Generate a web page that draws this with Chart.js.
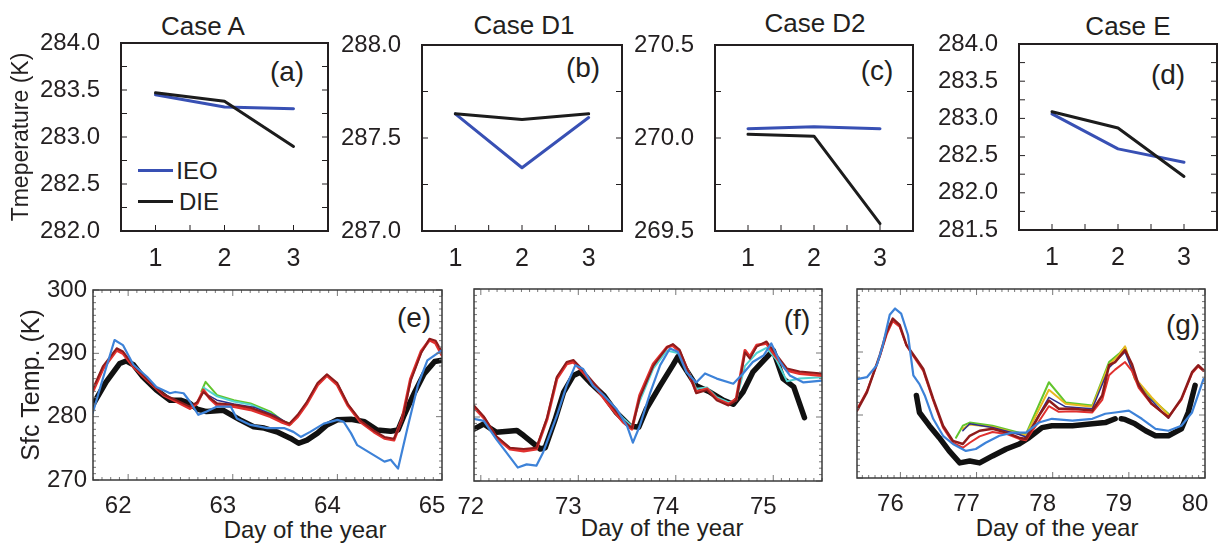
<!DOCTYPE html>
<html>
<head>
<meta charset="utf-8">
<script src="https://cdn.jsdelivr.net/npm/chart.js@4.4.1/dist/chart.umd.min.js"></script>
<style>
body { margin: 0; background: #fff; }
#fig { position: relative; width: 1220px; height: 545px; overflow: hidden;
       font-family: "Liberation Sans", Arial, sans-serif; color: #231f20; }
#fig canvas { position: absolute; }
.lbl { position: absolute; transform: translate(-50%, -50%); white-space: nowrap; line-height: 1; }
.key { position: absolute; height: 3px; width: 35px; }
</style>
</head>
<body>
<div id="fig">
  <div class="lbl" style="left:203px;top:26px;font-size:26px">Case A</div>
  <div class="lbl" style="left:524px;top:25px;font-size:26px">Case D1</div>
  <div class="lbl" style="left:815px;top:23px;font-size:26px">Case D2</div>
  <div class="lbl" style="left:1128px;top:26px;font-size:26px">Case E</div>

  <div class="lbl" style="left:287px;top:72px;font-size:28px">(a)</div>
  <div class="lbl" style="left:583px;top:68px;font-size:28px">(b)</div>
  <div class="lbl" style="left:877px;top:71px;font-size:28px">(c)</div>
  <div class="lbl" style="left:1168px;top:75px;font-size:28px">(d)</div>
  <div class="lbl" style="left:414px;top:318px;font-size:28px">(e)</div>
  <div class="lbl" style="left:797px;top:320px;font-size:28px">(f)</div>
  <div class="lbl" style="left:1183px;top:325px;font-size:28px">(g)</div>

  <div class="lbl" style="left:305px;top:530px;font-size:24px">Day of the year</div>
  <div class="lbl" style="left:662px;top:528px;font-size:24px">Day of the year</div>
  <div class="lbl" style="left:1057px;top:528px;font-size:24px">Day of the year</div>

  <!-- legend of panel (a) -->
  <div class="key" style="left:138px;top:169px;background:#3850b4"></div>
  <div class="lbl" style="left:197px;top:171px;font-size:24px">IEO</div>
  <div class="key" style="left:138px;top:200px;background:#1c1c1c"></div>
  <div class="lbl" style="left:199px;top:202px;font-size:24px">DIE</div>
</div>

<script>
// ---- top row: case means, periods 1..3 ----
const caseX = [1, 2, 3];
const caseA_IEO = [283.45, 283.32, 283.30];
const caseA_DIE = [283.47, 283.38, 282.90];
const caseD1_IEO = [287.63, 287.34, 287.61];
const caseD1_DIE = [287.63, 287.60, 287.63];
const caseD2_IEO = [270.05, 270.06, 270.05];
const caseD2_DIE = [270.02, 270.01, 269.54];
const caseE_IEO = [283.06, 282.59, 282.41];
const caseE_DIE = [283.09, 282.87, 282.22];

const ticksA = [282.0, 282.5, 283.0, 283.5, 284.0];
const ticksD1 = [287.0, 287.5, 288.0];
const ticksD2 = [269.5, 270.0, 270.5];
const ticksE = [281.5, 282.0, 282.5, 283.0, 283.5, 284.0];

// ---- bottom row: surface temperature [day, K] ----
const eBlack = [[61.66,281.8],[61.79,285.5],[61.92,288.4],[61.98,288.8],[62.05,288.2],[62.14,286.3],[62.27,284.2],[62.40,282.6],[62.50,282.6],[62.59,282.1],[62.66,281.2],[62.75,280.8],[62.91,281.0],[63.07,279.5],[63.20,278.4],[63.30,278.2],[63.42,277.6],[63.55,276.6],[63.63,275.8],[63.71,276.3],[63.81,277.4],[63.90,278.7],[64.00,279.5],[64.13,279.6],[64.26,279.2],[64.38,277.9],[64.51,277.7],[64.58,277.9],[64.64,280.3],[64.74,283.9],[64.83,286.8],[64.93,288.7],[65.00,288.9]];
const eBlue = [[61.66,280.5],[61.76,286.1],[61.87,292.1],[61.95,291.3],[62.05,288.2],[62.18,286.3],[62.27,284.7],[62.40,283.7],[62.45,283.9],[62.53,283.7],[62.59,282.4],[62.67,280.3],[62.75,280.8],[62.85,281.6],[62.98,281.6],[63.04,279.7],[63.17,278.7],[63.33,278.2],[63.49,278.2],[63.58,277.6],[63.65,276.8],[63.74,277.6],[63.87,278.9],[64.00,279.5],[64.06,279.2],[64.13,277.4],[64.19,275.5],[64.32,274.2],[64.45,272.9],[64.51,273.2],[64.58,271.8],[64.67,278.2],[64.77,285.0],[64.86,288.9],[65.00,290.5]];
const eRed = [[61.66,283.9],[61.76,287.6],[61.89,290.5],[61.95,290.0],[62.05,287.9],[62.18,285.8],[62.34,283.4],[62.46,282.4],[62.59,281.3],[62.66,282.1],[62.72,284.2],[62.78,282.9],[62.85,281.8],[63.01,281.6],[63.17,281.1],[63.36,280.0],[63.46,279.2],[63.54,278.7],[63.62,280.0],[63.71,282.1],[63.81,285.0],[63.90,286.5],[64.00,285.0],[64.10,281.8],[64.22,279.2],[64.35,277.6],[64.45,276.6],[64.54,276.3],[64.62,279.7],[64.70,286.0],[64.80,290.3],[64.88,292.1],[64.94,291.6],[65.00,289.7]];
const eDarkRed = [[61.66,284.3],[61.76,288.0],[61.89,290.8],[61.95,290.3],[62.05,288.1],[62.18,285.9],[62.34,283.5],[62.46,282.6],[62.59,281.6],[62.66,282.3],[62.72,283.9],[62.78,283.0],[62.85,282.1],[63.01,281.9],[63.17,281.4],[63.36,280.3],[63.46,279.5],[63.54,278.9],[63.62,280.3],[63.71,282.4],[63.81,285.3],[63.90,286.7],[64.00,285.3],[64.10,282.0],[64.22,279.4],[64.35,277.8],[64.45,276.8],[64.54,276.5],[64.62,279.5],[64.70,285.6],[64.80,290.0],[64.88,292.3],[64.94,292.0],[65.00,290.2]];
const eGreen = [[62.70,284.0],[62.74,285.5],[62.85,283.4],[63.01,282.6],[63.17,282.1],[63.36,280.8],[63.49,279.2],[63.56,278.9]];
const eCyan = [[62.72,284.6],[62.85,283.2],[63.01,282.4],[63.17,281.9],[63.36,280.5],[63.49,279.0]];
const eNavy = [[62.72,283.8],[62.85,282.6],[63.01,282.0],[63.20,281.5],[63.40,280.2],[63.52,279.0]];

const fBlack = [[71.93,278.1],[72.03,278.9],[72.16,277.6],[72.37,277.9],[72.44,277.1],[72.61,275.0],[72.66,275.2],[72.76,279.5],[72.85,283.9],[72.95,286.5],[73.02,287.0],[73.12,285.4],[73.26,283.4],[73.39,280.7],[73.53,278.6],[73.62,278.4],[73.70,281.3],[73.84,284.9],[73.97,288.1],[74.02,289.4],[74.10,287.5],[74.21,284.9],[74.35,283.9],[74.49,282.6],[74.59,282.0],[74.69,283.9],[74.79,287.0],[74.90,288.8],[75.00,290.4],[75.10,286.0],[75.21,284.7],[75.32,279.9]];
const fBlue = [[71.93,279.7],[72.03,279.4],[72.16,276.5],[72.26,274.5],[72.38,272.1],[72.47,272.6],[72.57,272.4],[72.64,274.5],[72.78,280.2],[72.88,284.9],[72.97,288.1],[73.05,287.5],[73.15,284.9],[73.26,283.4],[73.39,281.3],[73.50,278.6],[73.56,276.0],[73.63,278.6],[73.74,283.9],[73.84,288.1],[73.94,290.7],[74.02,290.2],[74.11,287.0],[74.21,285.4],[74.30,286.8],[74.42,286.0],[74.59,285.2],[74.69,286.8],[74.79,288.6],[74.90,289.6],[74.98,291.5],[75.07,288.6],[75.17,286.5],[75.31,285.4],[75.50,285.7]];
const fRed = [[71.93,281.5],[72.03,279.9],[72.16,276.8],[72.30,275.0],[72.44,274.7],[72.57,275.0],[72.68,279.7],[72.78,286.0],[72.88,288.3],[72.95,288.6],[73.05,287.0],[73.19,284.4],[73.32,281.8],[73.46,279.2],[73.55,278.1],[73.63,283.4],[73.77,288.3],[73.91,290.9],[73.97,291.2],[74.04,290.2],[74.15,286.2],[74.21,283.9],[74.32,284.4],[74.42,282.8],[74.54,282.0],[74.62,282.8],[74.71,290.4],[74.76,289.4],[74.83,291.2],[74.93,291.5],[75.03,289.4],[75.14,287.3],[75.27,286.8],[75.50,286.5]];
const fDarkRed = [[71.93,281.8],[72.03,280.1],[72.16,277.0],[72.30,275.2],[72.44,275.0],[72.57,275.2],[72.68,279.9],[72.78,286.3],[72.88,288.6],[72.95,288.9],[73.05,287.3],[73.19,284.8],[73.32,282.2],[73.46,279.5],[73.55,278.3],[73.63,283.0],[73.77,288.0],[73.91,290.9],[73.97,291.4],[74.04,290.5],[74.15,286.3],[74.21,283.7],[74.32,284.2],[74.42,282.6],[74.54,281.8],[74.62,282.6],[74.71,290.1],[74.76,289.1],[74.83,291.0],[74.93,291.8],[75.03,289.8],[75.14,287.6],[75.27,287.1],[75.50,286.8]];
const fCyan = [[73.32,282.2],[73.46,279.8],[73.55,278.6],[73.63,282.5],[73.77,287.6],[73.91,290.4],[74.04,289.9],[74.15,286.5],[74.21,284.4],[74.32,284.6],[74.42,283.1],[74.54,282.3],[74.62,282.6],[74.71,288.0],[74.83,290.0],[74.93,290.8],[75.03,289.0],[75.14,285.6],[75.27,286.0],[75.50,286.2]];

const gBlack = [[76.21,283.1],[76.25,280.4],[76.38,278.3],[76.51,276.4],[76.64,274.3],[76.78,272.4],[76.91,272.7],[77.04,272.4],[77.21,273.5],[77.39,274.6],[77.56,275.4],[77.69,276.4],[77.86,278.0],[77.99,278.3],[78.26,278.3],[78.52,278.6],[78.69,278.8],[78.82,279.4],[78.86,null],[78.90,279.4],[78.95,279.3],[79.08,278.6],[79.22,277.5],[79.35,276.7],[79.52,276.7],[79.69,277.8],[79.78,280.4],[79.87,284.7]];
const gBlue = [[75.43,285.7],[75.56,286.0],[75.69,287.9],[75.77,291.1],[75.86,295.9],[75.93,296.9],[76.01,296.1],[76.10,292.7],[76.17,286.3],[76.25,284.9],[76.32,283.1],[76.43,279.4],[76.56,276.7],[76.69,275.4],[76.86,274.3],[76.99,274.6],[77.12,275.6],[77.30,276.7],[77.47,277.2],[77.65,277.2],[77.82,278.8],[77.99,279.4],[78.26,279.1],[78.52,279.4],[78.69,280.2],[78.82,280.4],[79.00,280.7],[79.17,279.4],[79.35,277.8],[79.52,277.5],[79.69,278.3],[79.83,280.4],[79.98,285.7]];
const gDarkRed = [[75.43,280.7],[75.56,283.6],[75.73,289.5],[75.82,293.2],[75.90,295.3],[75.99,294.3],[76.08,291.1],[76.21,288.9],[76.30,287.3],[76.43,282.6],[76.56,278.3],[76.69,275.9],[76.82,275.4],[76.91,276.7],[77.04,277.5],[77.21,277.8],[77.39,277.2],[77.56,276.4],[77.65,276.2],[77.82,279.9],[77.95,282.3],[78.08,281.0],[78.26,281.0],[78.52,280.7],[78.65,283.1],[78.74,287.9],[78.82,288.4],[78.95,290.3],[79.04,288.1],[79.13,284.7],[79.30,281.8],[79.52,279.6],[79.69,282.6],[79.83,286.8],[79.91,287.9],[79.98,287.1]];
const gRed = [[75.43,280.9],[75.56,283.8],[75.73,289.3],[75.82,292.8],[75.90,294.9],[75.99,294.0],[76.08,291.0],[76.21,288.6],[76.30,287.0],[76.43,282.3],[76.56,278.0],[76.69,275.6],[76.82,274.8],[76.91,275.6],[77.04,276.6],[77.21,277.3],[77.39,277.0],[77.56,276.2],[77.65,276.0],[77.82,279.0],[77.95,281.4],[78.08,280.5],[78.26,280.6],[78.52,280.4],[78.65,282.4],[78.74,286.3],[78.82,287.2],[78.95,288.4],[79.04,287.0],[79.13,284.3],[79.30,281.7],[79.52,279.7],[79.69,282.4],[79.83,286.6],[79.91,287.7],[79.98,287.0]];
const gGreen = [[76.73,276.4],[76.82,278.3],[76.91,278.8],[77.21,278.3],[77.56,277.2],[77.65,277.0],[77.95,285.2],[78.17,282.0],[78.52,281.5],[78.74,288.4],[78.87,289.7],[78.95,290.8],[79.08,285.7],[79.30,282.6],[79.52,280.2]];
const gYellow = [[76.82,277.8],[76.91,278.5],[77.21,278.1],[77.56,277.0],[77.65,276.8],[77.95,284.0],[78.17,281.8],[78.52,281.3],[78.74,288.0],[78.87,289.5],[78.95,290.9],[79.08,285.9],[79.30,282.8],[79.52,280.0]];
const gNavy = [[76.82,277.5],[76.91,278.6],[77.21,278.0],[77.56,276.9],[77.65,276.5],[77.95,282.8],[78.17,281.3],[78.52,281.0],[78.74,287.5],[78.95,290.0],[79.08,286.0],[79.22,283.2],[79.30,282.3],[79.52,279.5]];

const dayTicksE = [62, 63, 64, 65];
const dayTicksF = [72, 73, 74, 75];
const dayTicksG = [76, 77, 78, 79, 80];
const sfcTicks = [270, 280, 290, 300];

const ink = '#231f20';
const FONT = '"Liberation Sans", Arial, sans-serif';
const IEO = '#3850b4', DIE = '#1c1c1c';

// box plus inward tick marks, placed with the chart's own scales
const frame = {
  id: 'frame',
  afterDraw(chart, args, o) {
    const { ctx, chartArea: a, scales: { x, y } } = chart;
    ctx.save();
    ctx.strokeStyle = o.tickColor;
    ctx.lineWidth = 1;
    ctx.beginPath();
    const walk = (scale, step, major, fn) => {
      const k0 = Math.ceil(scale.min / step - 1e-6), k1 = Math.floor(scale.max / step + 1e-6);
      for (let k = k0; k <= k1; k++) {
        const v = k * step;
        const big = Math.abs(v / major - Math.round(v / major)) < 1e-6;
        fn(scale.getPixelForValue(v), big ? o.majorLen : o.minorLen);
      }
    };
    walk(x, o.xStep, o.xMajor, (p, len) => {
      if (o.sides.includes('bottom')) { ctx.moveTo(p, a.bottom); ctx.lineTo(p, a.bottom - len); }
      if (o.sides.includes('top')) { ctx.moveTo(p, a.top); ctx.lineTo(p, a.top + len); }
    });
    walk(y, o.yStep, o.yMajor, (p, len) => {
      if (o.sides.includes('left')) { ctx.moveTo(a.left, p); ctx.lineTo(a.left + len, p); }
      if (o.sides.includes('right')) { ctx.moveTo(a.right, p); ctx.lineTo(a.right - len, p); }
    });
    ctx.stroke();
    ctx.strokeStyle = o.boxColor;
    ctx.lineWidth = o.boxWidth;
    ctx.strokeRect(a.left, a.top, a.right - a.left, a.bottom - a.top);
    ctx.restore();
  }
};

const fig = document.getElementById('fig');

function panel(p) {
  const cv = document.createElement('canvas');
  cv.width = p.cw; cv.height = p.ch;
  cv.style.left = p.cx + 'px'; cv.style.top = p.cy + 'px';
  fig.appendChild(cv);
  const b = p.box;
  new Chart(cv, {
    type: 'line',
    data: {
      datasets: p.series.map(s => ({
        data: s.data, borderColor: s.color, borderWidth: s.width,
        pointRadius: 0, tension: 0, fill: false, spanGaps: false,
        borderJoinStyle: 'round', borderCapStyle: 'round'
      }))
    },
    options: {
      responsive: false, animation: false, events: [],
      layout: { padding: { left: 0, bottom: 0, top: b.top - p.cy, right: p.cx + p.cw - b.right } },
      plugins: { legend: { display: false }, tooltip: { enabled: false }, frame: p.frame },
      scales: {
        x: {
          type: 'linear', min: p.xMin, max: p.xMax,
          afterBuildTicks: s => { s.ticks = p.xTicks.map(v => ({ value: v })); },
          afterFit: s => { s.height = p.cy + p.ch - b.bottom; s.paddingLeft = 0; s.paddingRight = 0; },
          grid: { display: false, drawTicks: false }, border: { display: false },
          ticks: { color: ink, font: { family: FONT, size: p.xFont }, padding: p.xPad,
                   labelOffset: p.xShift || 0, maxRotation: 0, autoSkip: false,
                   callback: v => String(v) }
        },
        y: {
          type: 'linear', min: p.yMin, max: p.yMax,
          afterBuildTicks: s => { s.ticks = p.yTicks.map(v => ({ value: v })); },
          afterFit: s => { s.width = b.left - p.cx; s.paddingTop = 0; s.paddingBottom = 0; },
          grid: { display: false, drawTicks: false }, border: { display: false },
          ticks: { display: p.yLabels, color: ink, font: { family: FONT, size: p.yFont },
                   padding: p.yPad, autoSkip: false, callback: p.yFmt },
          title: p.yTitle ? { display: true, text: p.yTitle, color: ink,
                   font: { family: FONT, size: p.yTitleSize }, padding: { top: p.yTitlePad, bottom: 0 } }
                 : { display: false }
        }
      }
    },
    plugins: [frame]
  });
}

const pts = ys => caseX.map((x, i) => [x, ys[i]]);
const topFrame = { xStep: 0.5, xMajor: 1, yStep: 0.25, yMajor: 0.5, minorLen: 6, majorLen: 6,
                   sides: ['bottom', 'left', 'right'], tickColor: ink, boxColor: ink, boxWidth: 2 };
const botFrame = { xStep: 1 / 12, xMajor: 1, yStep: 1, yMajor: 10, minorLen: 3, majorLen: 6,
                   sides: ['bottom', 'top', 'left', 'right'], tickColor: '#777', boxColor: '#3a3a3a', boxWidth: 1.5 };
const fmt1 = v => v.toFixed(1);

const tops = [
  { cx: 0,   box: { left: 121, top: 43, right: 328, bottom: 231 }, cw: 335, ie: caseA_IEO, de: caseA_DIE, t: ticksA, title: 'Tmeperature (K)' },
  { cx: 335, box: { left: 422, top: 45, right: 622, bottom: 231 }, cw: 293, ie: caseD1_IEO, de: caseD1_DIE, t: ticksD1 },
  { cx: 628, box: { left: 715, top: 45, right: 913, bottom: 231 }, cw: 292, ie: caseD2_IEO, de: caseD2_DIE, t: ticksD2 },
  { cx: 920, box: { left: 1019, top: 44, right: 1217, bottom: 230 }, cw: 300, ie: caseE_IEO, de: caseE_DIE, t: ticksE }
];
tops.forEach(c => panel({
  cx: c.cx, cy: 0, cw: c.cw, ch: 275, box: c.box,
  xMin: 0.5, xMax: 3.5, xTicks: caseX, xFont: 25, xPad: 13,
  yMin: c.t[0], yMax: c.t[c.t.length - 1], yTicks: c.t, yLabels: true, yFont: 24, yPad: 21, yFmt: fmt1,
  yTitle: c.title, yTitleSize: 23, yTitlePad: 8,
  frame: topFrame,
  series: [
    { data: pts(c.de), color: DIE, width: 3 },
    { data: pts(c.ie), color: IEO, width: 3 }
  ]
}));

const BLK = '#111111', BLU = '#3d82d8', RED = '#e0302e', DRK = '#8e1b1b',
      GRN = '#62c52d', CYN = '#52d3d0', NAV = '#2b2f8f', YEL = '#e8b820';

const bots = [
  { cx: 0, cw: 470, box: { left: 93, top: 290, right: 442, bottom: 480 }, xMin: 61.664, xMax: 65.0, xTicks: dayTicksE,
    labels: true, title: 'Sfc Temp. (K)',
    series: [[eBlue, BLU, 2.2], [eDarkRed, DRK, 2], [eRed, RED, 3], [eNavy, NAV, 1.5], [eCyan, CYN, 2], [eGreen, GRN, 2], [eBlack, BLK, 5.5]] },
  { cx: 452, cw: 380, box: { left: 474, top: 289, right: 822, bottom: 481 }, xMin: 71.93, xMax: 75.5, xTicks: dayTicksF,
    labels: false,
    series: [[fBlue, BLU, 2.2], [fDarkRed, DRK, 2], [fRed, RED, 3], [fCyan, CYN, 2], [fBlack, BLK, 5.5]] },
  { cx: 835, cw: 385, box: { left: 857, top: 289, right: 1205, bottom: 478 }, xMin: 75.43, xMax: 80.0, xTicks: dayTicksG,
    labels: false,
    series: [[gBlue, BLU, 2.2], [gDarkRed, DRK, 2.5], [gRed, RED, 2], [gNavy, NAV, 1.5], [gYellow, YEL, 2], [gGreen, GRN, 2], [gBlack, BLK, 5.5]] }
];
bots.forEach(c => panel({
  cx: c.cx, cy: 270, cw: c.cw, ch: 245, box: c.box,
  xMin: c.xMin, xMax: c.xMax, xTicks: c.xTicks, xFont: 24, xPad: 12, xShift: -10,
  yMin: 270, yMax: 300, yTicks: sfcTicks, yLabels: c.labels, yFont: 24, yPad: 6, yFmt: v => String(v),
  yTitle: c.title, yTitleSize: 25, yTitlePad: 17,
  frame: botFrame,
  series: c.series.map(s => ({ data: s[0], color: s[1], width: s[2] }))
}));
</script>
</body>
</html>
